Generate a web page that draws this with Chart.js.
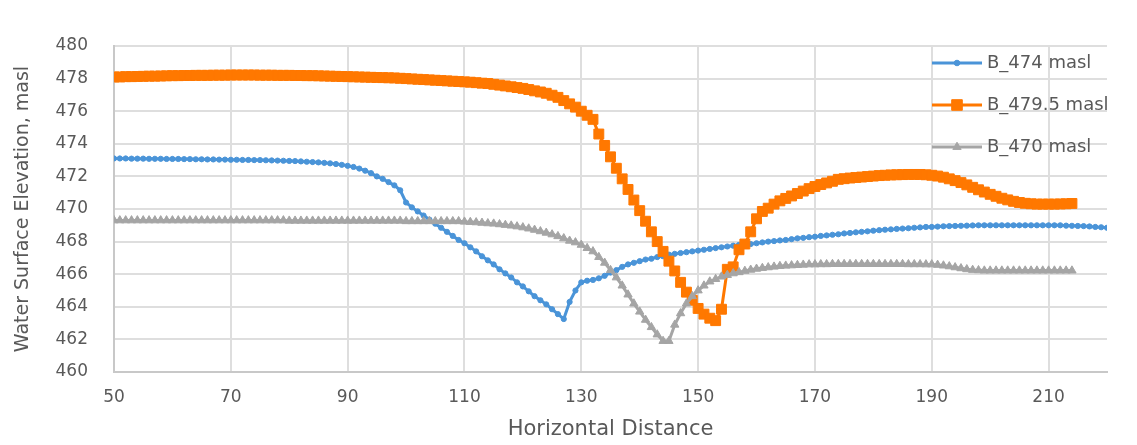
<!DOCTYPE html>
<html>
<head>
<meta charset="utf-8">
<script src="https://cdn.jsdelivr.net/npm/chart.js@4"></script>
<style>
  html, body { margin: 0; padding: 0; background: #ffffff; }
  #wrap { width: 1137px; height: 445px; position: relative; }
</style>
</head>
<body>
<div id="wrap"><canvas id="wse-chart"></canvas></div>
<script>
// Horizontal distance runs 50..220 in steps of 1 (one point per station)
const distanceStart = 50;

const seriesNames = ['B_474 masl', 'B_479.5 masl', 'B_470 masl'];

// B_474 masl, stations 50..220
const b474 = [
    473.10, 473.10, 473.10, 473.09, 473.09, 473.09, 473.08, 473.08, 473.08, 473.07,
    473.07, 473.07, 473.06, 473.06, 473.05, 473.05, 473.04, 473.04, 473.03, 473.03,
    473.02, 473.02, 473.01, 473.01, 473.00, 473.00, 472.99, 472.98, 472.97, 472.96,
    472.95, 472.94, 472.92, 472.90, 472.88, 472.86, 472.83, 472.80, 472.76, 472.71,
    472.65, 472.58, 472.48, 472.35, 472.20, 472.00, 471.85, 471.65, 471.45, 471.15,
    470.40, 470.10, 469.85, 469.60, 469.35, 469.10, 468.85, 468.60, 468.35, 468.10,
    467.90, 467.65, 467.40, 467.10, 466.85, 466.60, 466.30, 466.05, 465.80, 465.50,
    465.25, 464.95, 464.65, 464.40, 464.15, 463.85, 463.55, 463.25, 464.30, 465.00,
    465.50, 465.60, 465.65, 465.75, 465.90, 466.10, 466.25, 466.45, 466.60, 466.70,
    466.80, 466.90, 466.95, 467.05, 467.10, 467.20, 467.25, 467.30, 467.35, 467.40,
    467.45, 467.50, 467.55, 467.60, 467.65, 467.70, 467.75, 467.80, 467.82, 467.85,
    467.90, 467.95, 468.00, 468.03, 468.07, 468.10, 468.15, 468.20, 468.23, 468.27,
    468.30, 468.35, 468.38, 468.42, 468.45, 468.50, 468.53, 468.57, 468.60, 468.63,
    468.67, 468.70, 468.73, 468.75, 468.78, 468.80, 468.82, 468.85, 468.87, 468.90,
    468.90, 468.92, 468.94, 468.95, 468.96, 468.97, 468.98, 468.99, 469.00, 469.00,
    469.00, 469.00, 469.00, 469.00, 469.00, 469.00, 469.00, 469.00, 469.00, 469.00,
    469.00, 469.00, 469.00, 468.98, 468.97, 468.96, 468.95, 468.93, 468.90, 468.88,
    468.85
];

// B_479.5 masl, stations 50..214
const b4795 = [
    478.10, 478.10, 478.12, 478.12, 478.13, 478.14, 478.15, 478.15, 478.16, 478.17,
    478.18, 478.18, 478.19, 478.19, 478.20, 478.20, 478.20, 478.21, 478.21, 478.21,
    478.22, 478.22, 478.22, 478.22, 478.22, 478.21, 478.21, 478.21, 478.20, 478.20,
    478.20, 478.19, 478.19, 478.18, 478.18, 478.17, 478.16, 478.15, 478.14, 478.13,
    478.12, 478.11, 478.10, 478.09, 478.08, 478.07, 478.06, 478.05, 478.04, 478.02,
    478.00, 477.98, 477.96, 477.94, 477.92, 477.90, 477.88, 477.86, 477.84, 477.82,
    477.80, 477.78, 477.75, 477.72, 477.70, 477.65, 477.60, 477.55, 477.50, 477.45,
    477.40, 477.33, 477.25, 477.18, 477.10, 476.98, 476.85, 476.65, 476.45, 476.25,
    476.00, 475.75, 475.50, 474.60, 473.90, 473.20, 472.50, 471.85, 471.20, 470.55,
    469.90, 469.25, 468.60, 468.00, 467.40, 466.80, 466.20, 465.50, 464.90, 464.40,
    463.90, 463.55, 463.30, 463.15, 463.85, 466.30, 466.45, 467.50, 467.85, 468.60,
    469.40, 469.85, 470.05, 470.30, 470.50, 470.65, 470.80, 470.95, 471.10, 471.25,
    471.38, 471.50, 471.60, 471.70, 471.82, 471.86, 471.90, 471.93, 471.96, 471.99,
    472.02, 472.05, 472.07, 472.09, 472.10, 472.11, 472.12, 472.12, 472.12, 472.10,
    472.07, 472.02, 471.95, 471.85, 471.74, 471.62, 471.48, 471.33, 471.18, 471.04,
    470.90, 470.78, 470.66, 470.56, 470.47, 470.40, 470.35, 470.32, 470.30, 470.30,
    470.30, 470.30, 470.31, 470.32, 470.34
];

// B_470 masl, stations 50..214
const b470 = [
    469.30, 469.30, 469.30, 469.30, 469.30, 469.30, 469.30, 469.30, 469.30, 469.30,
    469.30, 469.30, 469.30, 469.30, 469.30, 469.30, 469.30, 469.30, 469.30, 469.30,
    469.30, 469.30, 469.30, 469.30, 469.30, 469.30, 469.30, 469.30, 469.30, 469.30,
    469.28, 469.28, 469.28, 469.28, 469.28, 469.28, 469.28, 469.28, 469.28, 469.28,
    469.28, 469.28, 469.28, 469.28, 469.28, 469.28, 469.28, 469.28, 469.28, 469.28,
    469.25, 469.25, 469.25, 469.25, 469.25, 469.25, 469.25, 469.25, 469.25, 469.25,
    469.22, 469.20, 469.18, 469.15, 469.12, 469.10, 469.06, 469.02, 468.98, 468.93,
    468.87, 468.80, 468.72, 468.63, 468.54, 468.44, 468.33, 468.20, 468.05, 467.95,
    467.80, 467.60, 467.40, 467.05, 466.70, 466.25, 465.80, 465.30, 464.75, 464.20,
    463.70, 463.20, 462.75, 462.30, 461.90, 461.90, 462.90, 463.60, 464.20, 464.65,
    465.00, 465.30, 465.55, 465.70, 465.85, 465.95, 466.05, 466.12, 466.20, 466.27,
    466.33, 466.38, 466.42, 466.46, 466.50, 466.52, 466.54, 466.56, 466.58, 466.60,
    466.60, 466.61, 466.61, 466.62, 466.62, 466.62, 466.62, 466.62, 466.62, 466.62,
    466.62, 466.62, 466.62, 466.62, 466.62, 466.62, 466.61, 466.61, 466.61, 466.60,
    466.60, 466.57, 466.53, 466.48, 466.42, 466.36, 466.30, 466.26, 466.24, 466.22,
    466.22, 466.22, 466.22, 466.22, 466.22, 466.22, 466.22, 466.22, 466.22, 466.22,
    466.22, 466.22, 466.22, 466.22, 466.22
];

const xTicks = [50, 70, 90, 110, 130, 150, 170, 190, 210];
const yTicks = [460, 462, 464, 466, 468, 470, 472, 474, 476, 478, 480];

const TEXT_COLOR = '#595959';
const FONT_FAMILY = '"DejaVu Sans", "Liberation Sans", sans-serif';

function toPoints(values) {
    return values.map((v, i) => ({ x: distanceStart + i, y: v }));
}

// legend sits inside the plot, top right, over the grid
const insideLegend = {
    id: 'insideLegend',
    afterDraw(chart) {
        const ctx = chart.ctx;
        const left = 932, lineLen = 50, top = 63, rowGap = 42;
        chart.data.datasets.forEach((ds, i) => {
            const y = top + i * rowGap;
            ctx.save();
            ctx.strokeStyle = ds.borderColor;
            ctx.lineWidth = ds.borderWidth;
            ctx.beginPath();
            ctx.moveTo(left, y);
            ctx.lineTo(left + lineLen, y);
            ctx.stroke();
            ctx.fillStyle = ds.pointBackgroundColor;
            ctx.strokeStyle = ds.pointBorderColor;
            ctx.lineWidth = 1;
            Chart.helpers.drawPoint(ctx, {
                pointStyle: ds.pointStyle,
                radius: ds.legendRadius,
                borderWidth: 1
            }, left + lineLen / 2, y);
            ctx.fillStyle = TEXT_COLOR;
            ctx.font = '18px ' + FONT_FAMILY;
            ctx.textBaseline = 'middle';
            ctx.textAlign = 'left';
            ctx.fillText(ds.label, left + lineLen + 5, y);
            ctx.restore();
        });
    }
};

const ctx = document.getElementById('wse-chart').getContext('2d');
new Chart(ctx, {
    type: 'line',
    data: {
        datasets: [{
            label: seriesNames[0],
            data: toPoints(b474),
            borderColor: '#4a94d8',
            backgroundColor: '#4a94d8',
            pointBackgroundColor: '#4a94d8',
            pointBorderColor: '#4a94d8',
            borderWidth: 3,
            pointStyle: 'circle',
            pointRadius: 2.6,
            legendRadius: 2.8,
            pointBorderWidth: 1,
            order: 2
        }, {
            label: seriesNames[1],
            data: toPoints(b4795),
            borderColor: '#ff7800',
            backgroundColor: '#ff7800',
            pointBackgroundColor: '#ff7800',
            pointBorderColor: '#ff7800',
            borderWidth: 3,
            pointStyle: 'rect',
            pointRadius: 7,
            legendRadius: 7.5,
            pointBorderWidth: 1,
            order: 1
        }, {
            label: seriesNames[2],
            data: toPoints(b470),
            borderColor: '#a5a5a5',
            backgroundColor: '#a5a5a5',
            pointBackgroundColor: '#a5a5a5',
            pointBorderColor: '#a5a5a5',
            borderWidth: 3,
            pointStyle: 'triangle',
            pointRadius: 4.8,
            legendRadius: 4.8,
            pointBorderWidth: 1,
            order: 0
        }]
    },
    options: {
        responsive: true,
        maintainAspectRatio: false,
        animation: false,
        layout: { padding: { top: 46, right: 30, left: 0, bottom: 0 } },
        elements: { line: { tension: 0 } },
        scales: {
            x: {
                type: 'linear',
                min: 50,
                max: 220,
                afterBuildTicks: (scale) => {
                    scale.ticks = xTicks.map(v => ({ value: v }));
                },
                afterFit: (scale) => { scale.height = 73; },
                ticks: {
                    color: TEXT_COLOR,
                    font: { family: FONT_FAMILY, size: 17 },
                    padding: 15,
                    maxRotation: 0
                },
                grid: { color: '#dedede', lineWidth: 2, drawTicks: false },
                border: { color: '#c8c8c8', width: 2 },
                title: {
                    display: true,
                    text: 'Horizontal Distance',
                    color: TEXT_COLOR,
                    font: { family: FONT_FAMILY, size: 21 },
                    padding: { top: 0, bottom: 3 }
                }
            },
            y: {
                min: 460,
                max: 480,
                afterBuildTicks: (scale) => {
                    scale.ticks = yTicks.map(v => ({ value: v }));
                },
                afterFit: (scale) => { scale.width = 114; },
                ticks: {
                    color: TEXT_COLOR,
                    font: { family: FONT_FAMILY, size: 17 },
                    padding: 26
                },
                grid: { color: '#dedede', lineWidth: 2, drawTicks: false },
                border: { color: '#c8c8c8', width: 2 },
                title: {
                    display: true,
                    text: 'Water Surface Elevation, masl',
                    color: TEXT_COLOR,
                    font: { family: FONT_FAMILY, size: 19 },
                    padding: { top: 12, bottom: 0 }
                }
            }
        },
        plugins: {
            legend: { display: false },
            tooltip: { enabled: false }
        }
    },
    plugins: [insideLegend]
});
</script>
</body>
</html>
